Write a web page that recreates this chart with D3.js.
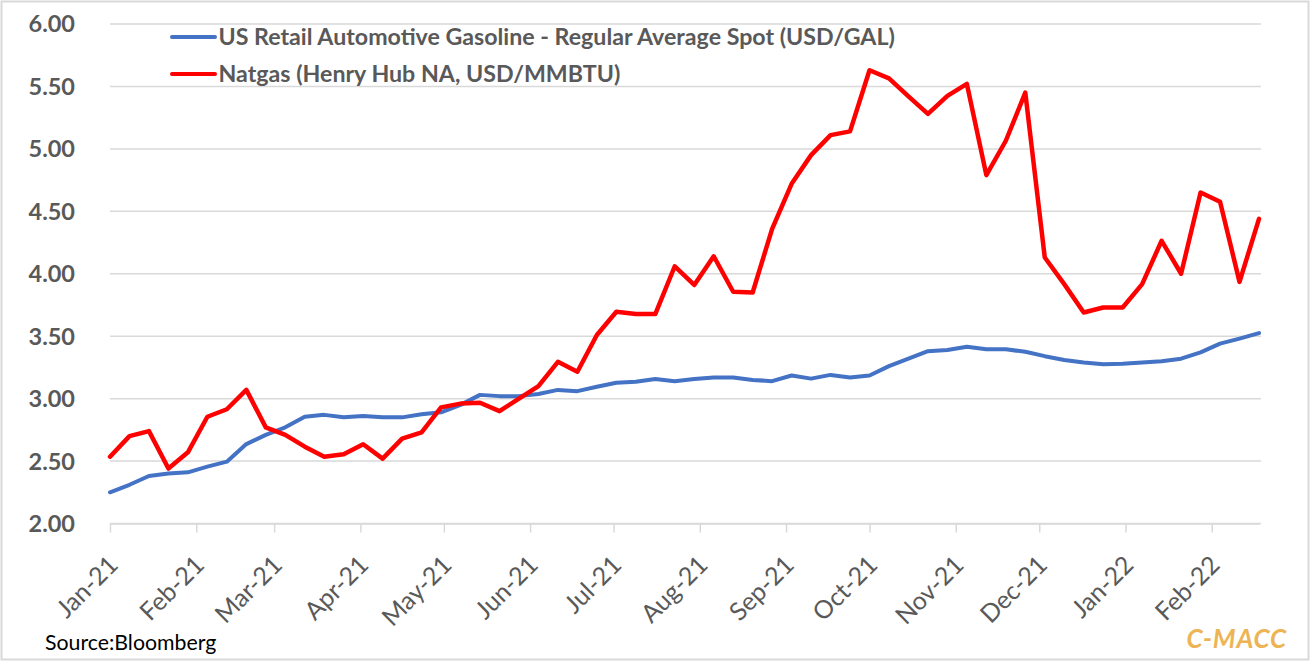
<!DOCTYPE html>
<html lang="en">
<head>
<meta charset="UTF-8">
<title>Gasoline vs Natgas</title>
<script src="https://d3js.org/d3.v7.min.js"></script>
<style>
  body { margin: 0; background: #fff; }
  text { font-family: Lato, "Open Sans", sans-serif; }
</style>
</head>
<body>
<svg width="1310" height="661"></svg>
<script>
// weekly observations, Fridays, Jan 1 2021 .. Feb 18 2022
const weeks = d3.utcDay.range(new Date(Date.UTC(2021, 0, 1)), new Date(Date.UTC(2022, 1, 19)), 7);

const gasoline = [
  2.25, 2.31, 2.38, 2.40, 2.41, 2.455, 2.495, 2.636, 2.71, 2.77,
  2.855, 2.87, 2.85, 2.86, 2.85, 2.85, 2.875, 2.89, 2.95, 3.03,
  3.02, 3.02, 3.037, 3.07, 3.06, 3.095, 3.127, 3.135, 3.157, 3.14,
  3.157, 3.17, 3.17, 3.15, 3.14, 3.185, 3.16, 3.19, 3.17, 3.185,
  3.26, 3.32, 3.38, 3.39, 3.415, 3.395, 3.395, 3.375, 3.34, 3.31,
  3.29, 3.275, 3.28, 3.29, 3.30, 3.32, 3.37, 3.44, 3.48, 3.525
];

const natgas = [
  2.535, 2.70, 2.74, 2.44, 2.57, 2.855, 2.915, 3.07, 2.77, 2.71,
  2.615, 2.535, 2.555, 2.635, 2.52, 2.68, 2.73, 2.93, 2.96, 2.967,
  2.90, 3.00, 3.10, 3.295, 3.215, 3.51, 3.696, 3.677, 3.677, 4.06,
  3.91, 4.14, 3.856, 3.85, 4.36, 4.72, 4.95, 5.11, 5.14, 5.63,
  5.565, 5.42, 5.28, 5.425, 5.52, 4.79, 5.065, 5.45, 4.13, 3.917,
  3.69, 3.73, 3.73, 3.917, 4.264, 4.00, 4.65, 4.576, 3.935, 4.44
];

const yTicks = [2.00, 2.50, 3.00, 3.50, 4.00, 4.50, 5.00, 5.50, 6.00];
const seriesNames = [
  "US Retail Automotive Gasoline - Regular Average Spot (USD/GAL)",
  "Natgas (Henry Hub NA, USD/MMBTU)"
];
const seriesColors = ["#4472C4", "#FF0000"];

const svg = d3.select("svg");

// outer frame
svg.append("rect")
  .attr("x", 1.5).attr("y", 1.5)
  .attr("width", 1307).attr("height", 658)
  .attr("fill", "none").attr("stroke", "#d9d9d9").attr("stroke-width", 2);

const x = d3.scaleUtc()
  .domain([weeks[0], weeks[weeks.length - 1]])
  .range([110, 1259]);

const y = d3.scaleLinear()
  .domain([2, 6])
  .range([523.5, 24]);

// gridlines
svg.append("g")
  .selectAll("line")
  .data(yTicks)
  .enter().append("line")
  .attr("x1", 110).attr("x2", 1261)
  .attr("y1", d => y(d)).attr("y2", d => y(d))
  .attr("stroke", "#d9d9d9").attr("stroke-width", 1.5);

// y labels
svg.append("g")
  .selectAll("text")
  .data(yTicks)
  .enter().append("text")
  .attr("x", 75)
  .attr("y", d => y(d))
  .attr("dy", "0.36em")
  .attr("text-anchor", "end")
  .attr("font-size", 23.5)
  .attr("font-weight", "bold")
  .attr("fill", "#595959")
  .text(d => d.toFixed(2));

// x axis
const xAxis = d3.axisBottom(x)
  .ticks(d3.utcMonth.every(1))
  .tickFormat(d3.utcFormat("%b-%y"))
  .tickSize(9)
  .tickSizeOuter(0);

const gx = svg.append("g")
  .attr("transform", "translate(0,523.5)")
  .call(xAxis);
gx.select(".domain").attr("stroke", "#d9d9d9").attr("stroke-width", 1.5);
gx.selectAll(".tick line").attr("stroke", "#d9d9d9").attr("stroke-width", 1.5);
gx.selectAll(".tick text")
  .attr("font-family", "Lato, sans-serif")
  .attr("font-size", 25)
  .attr("fill", "#595959")
  .attr("text-anchor", "end")
  .attr("x", 0).attr("y", 0).attr("dy", 0)
  .attr("transform", "translate(9,43) rotate(-45)");

// lines
const line = d3.line()
  .x((d, i) => x(weeks[i]))
  .y(d => y(d));

[gasoline, natgas].forEach((s, i) => {
  svg.append("path")
    .datum(s)
    .attr("fill", "none")
    .attr("stroke", seriesColors[i])
    .attr("stroke-width", i === 0 ? 4 : 4.5)
    .attr("stroke-linejoin", "round")
    .attr("stroke-linecap", "round")
    .attr("d", line);
});

// legend
const legend = svg.append("g")
  .selectAll("g")
  .data(seriesNames)
  .enter().append("g")
  .attr("transform", (d, i) => `translate(172, ${37 + i * 37})`);
legend.append("line")
  .attr("x1", 0).attr("x2", 43)
  .attr("stroke", (d, i) => seriesColors[i])
  .attr("stroke-width", 4)
  .attr("stroke-linecap", "round");
legend.append("text")
  .attr("x", 46.5)
  .attr("dy", "0.36em")
  .attr("font-size", 23.2)
  .attr("font-weight", "bold")
  .attr("fill", "#595959")
  .text(d => d);

// footer
svg.append("text")
  .attr("x", 45).attr("y", 650)
  .attr("font-size", 21.3)
  .attr("fill", "#000")
  .text("Source:Bloomberg");

svg.append("text")
  .attr("x", 1287).attr("y", 648)
  .attr("text-anchor", "end")
  .attr("font-size", 26)
  .attr("font-weight", "bold")
  .attr("font-style", "italic")
  .attr("letter-spacing", 0.8)
  .attr("fill", "#EDB455")
  .text("C-MACC");
</script>
</body>
</html>
